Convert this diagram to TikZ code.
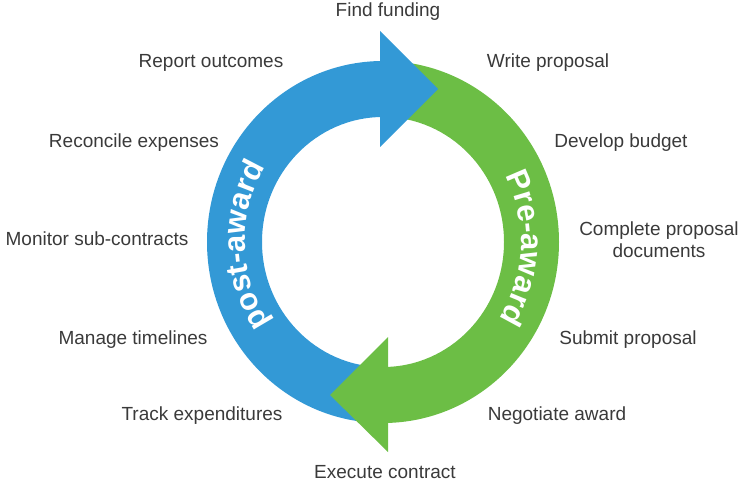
\documentclass[tikz,border=0pt]{standalone}
\usepackage{fontspec}
\setmainfont{Liberation Sans}
\usetikzlibrary{decorations.text}
\definecolor{awblue}{HTML}{3399D6}
\definecolor{awgreen}{HTML}{6CBE45}
\definecolor{labelgray}{HTML}{3A3A3A}
\newcommand{\ringfont}{\fontsize{31}{31}\selectfont\bfseries\color{white}}
\begin{document}
\begin{tikzpicture}[x=1pt,y=1pt,
  lbl/.style={font=\fontsize{19}{22}\selectfont, text=labelgray, inner sep=0pt, anchor=base},
  ringtext/.style={decorate, decoration={text along path, text align=fit to path, text={|\ringfont|#1}}}]
\useasboundingbox (0,0) rectangle (742,483);
\coordinate (C) at (383,241);
% blue (post-award) half ring
\fill[awblue] (383,422) arc[start angle=90,end angle=270,x radius=176,y radius=181]
  -- (383,116) arc[start angle=270,end angle=90,x radius=121,y radius=125] -- cycle;
% green (pre-award) half ring
\fill[awgreen] (383,422) arc[start angle=90,end angle=-90,x radius=176,y radius=181]
  -- (383,116) arc[start angle=-90,end angle=90,x radius=121,y radius=125] -- cycle;
% arrowheads
\fill[awgreen] (388,146) -- (388,31) -- (330,88) -- cycle;
\fill[awblue] (380,452) -- (380,336) -- (438,394) -- cycle;
% ring texts
\path[ringtext={post-award}] ([shift={(C)}]215:138 and 142)
  arc[start angle=215,end angle=148,x radius=138,y radius=142];
\path[ringtext={Pre-award}] ([shift={(C)}]28:138 and 142)
  arc[start angle=28,end angle=-33,x radius=138,y radius=142];
% labels
\node[lbl] (fund) at (388,466.5) {Find funding};
\node[lbl] (report) at (211,415) {Report outcomes};
\node[lbl] (write) at (548,415) {Write proposal};
\node[lbl] (reconcile) at (134,335) {Reconcile expenses};
\node[lbl] (develop) at (621,335) {Develop budget};
\node[lbl] (monitor) at (97,238) {Monitor sub-contracts};
\node[lbl, align=center] (complete) at (659,226) {Complete proposal\\documents};
\node[lbl] (manage) at (133,139) {Manage timelines};
\node[lbl] (submit) at (628,139) {Submit proposal};
\node[lbl] (track) at (202,63) {Track expenditures};
\node[lbl] (negotiate) at (557,63) {Negotiate award};
\node[lbl] (execute) at (385,5) {Execute contract};
\end{tikzpicture}
\end{document}
